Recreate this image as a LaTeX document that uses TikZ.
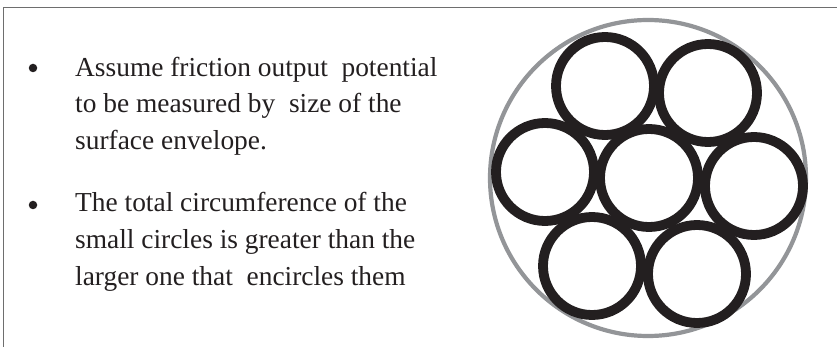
\documentclass[tikz,border=0pt]{standalone}
\usepackage{fontspec}
\setmainfont{Liberation Serif}
\definecolor{framegray}{HTML}{6E6E6E}
\definecolor{ringgray}{HTML}{939598}
\definecolor{ringblack}{HTML}{231F20}
\begin{document}
\begin{tikzpicture}[x=1pt,y=-1pt,
  txt/.style={anchor=base west,inner sep=0pt,font=\fontsize{27.4}{36.5}\selectfont,text=ringblack},
  bul/.style={circle,fill=ringblack,inner sep=0pt,minimum size=8.5pt},
  ring/.style={circle,draw=ringblack,line width=9.8pt,inner sep=0pt,minimum size=98pt},
  outer/.style={circle,draw=ringgray,line width=4.2pt,inner sep=0pt,minimum size=316pt}]
\fill[white] (0,0) rectangle (837,347);
\useasboundingbox (0,0) rectangle (837,347);
\draw[framegray,line width=1.8pt] (3.5,348) -- (3.5,7.5) -- (838,7.5);
% text
\node[bul] (b1) at (33,68) {};
\node[txt] (t11) at (75,77) {Assume friction output \ potential};
\node[txt] (t12) at (75,113) {to be measured by \ size of the};
\node[txt] (t13) at (75,150) {surface envelope.};
\node[bul] (b2) at (33,205) {};
\node[txt] (t21) at (75,212) {The total circumference of the};
\node[txt] (t22) at (75,248) {small circles is greater than the};
\node[txt] (t23) at (75,285) {larger one that \ encircles them};
% circles
\node[outer] (big) at (648,178) {};
\node[ring] (tl) at (605,86) {};
\node[ring] (tr) at (708,93) {};
\node[ring] (l) at (545,172) {};
\node[ring] (c) at (649,178) {};
\node[ring] (r) at (754,186) {};
\node[ring] (bl) at (592,266) {};
\node[ring] (br) at (697,274) {};
\end{tikzpicture}
\end{document}
